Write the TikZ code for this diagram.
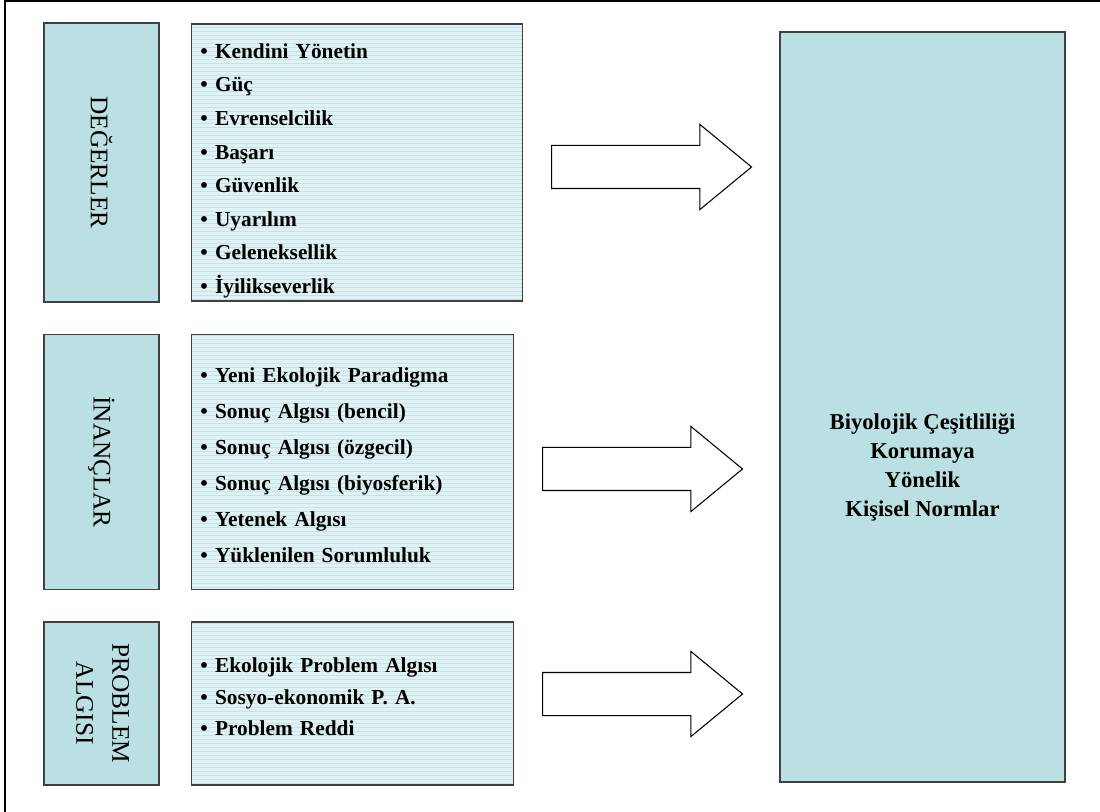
\documentclass[tikz,border=0pt]{standalone}
\usepackage{fontspec}
\setmainfont{Liberation Serif}
\usepackage{graphicx}
\usetikzlibrary{positioning,shapes.arrows,patterns}

\definecolor{boxteal}{RGB}{187,224,227}
\definecolor{listteal}{RGB}{226,241,243}
\definecolor{stripe}{RGB}{196,228,231}
\definecolor{edge}{RGB}{64,64,64}

\tikzstyle{group} = [draw=edge, line width=1.1pt, fill=boxteal, rectangle,
    minimum width=86.25pt, inner sep=0pt, font=\fontsize{19}{27}\selectfont]
\tikzstyle{items} = [draw=edge, line width=1.1pt, rectangle,
    preaction={fill=listteal}, pattern=horizontal lines, pattern color=stripe,
    inner xsep=6.75pt, inner ysep=0pt, align=left,
    font=\bfseries\fontsize{16}{25.2}\selectfont]
\tikzstyle{target} = [draw=edge, line width=1.1pt, fill=boxteal, rectangle,
    minimum width=213.75pt, minimum height=562.5pt]
\tikzstyle{bigarrow} = [draw, line width=0.8pt, fill=white, single arrow,
    anchor=tail, inner xsep=0pt, inner ysep=15.75pt, minimum width=63pt,
    minimum height=150pt, single arrow head extend=15.75pt,
    single arrow tip angle=79]

\begin{document}
\begin{tikzpicture}[x=0.75pt, y=-0.75pt, node distance=23.25pt]
    \useasboundingbox (0,0) rectangle (1100,812);
    \draw [line width=1.1pt] (5,812) -- (5,1) -- (1100,1);

    \node [group, minimum height=209.25pt] (degerler) at (101.5,162.5)
        {\rotatebox{-90}{DEĞERLER}};
    \node [group, minimum height=191.25pt, below=of degerler] (inanclar)
        {\rotatebox{-90}{İNANÇLAR}};
    \node [group, minimum height=122.25pt, below=of inanclar] (problem)
        {\rotatebox{-90}{\begin{tabular}{@{}c@{}}PROBLEM\\ALGISI\end{tabular}}};

    \node [items, text width=234.75pt, minimum height=207.75pt, right=of degerler] (degerlist)
        {\rule{0pt}{23.5pt}• Kendini Yönetin\\ • Güç\\ • Evrenselcilik\\ • Başarı\\ • Güvenlik\\
         • Uyarılım\\ • Geleneksellik\\ • İyilikseverlik};
    \node [items, text width=228pt, minimum height=191.25pt, right=of inanclar,
        font=\bfseries\fontsize{16}{27}\selectfont] (inanclist)
        {\rule{0pt}{15.5pt}• Yeni Ekolojik Paradigma\\ • Sonuç Algısı (bencil)\\ • Sonuç Algısı (özgecil)\\
         • Sonuç Algısı (biyosferik)\\ • Yetenek Algısı\\ • Yüklenilen Sorumluluk};
    \node [items, text width=228pt, minimum height=122.25pt, right=of problem,
        font=\bfseries\fontsize{16}{23.6}\selectfont] (problemlist)
        {• Ekolojik Problem Algısı\\ • Sosyo-ekonomik P. A.\\ • Problem Reddi\rule[-9.75pt]{0pt}{9.75pt}};

    \node [target] (normlar) at (922.5,407) {};
    \node [align=center, font=\bfseries\fontsize{17}{21.75}\selectfont, yshift=-45.4pt]
        (normtext) at (normlar.center)
        {Biyolojik Çeşitliliği\\ Korumaya\\ Yönelik\\ Kişisel Normlar};

    \node [bigarrow] (arrow1) at (551,167) {};
    \node [bigarrow] (arrow2) at (542,469) {};
    \node [bigarrow] (arrow3) at (542,694) {};
\end{tikzpicture}
\end{document}
